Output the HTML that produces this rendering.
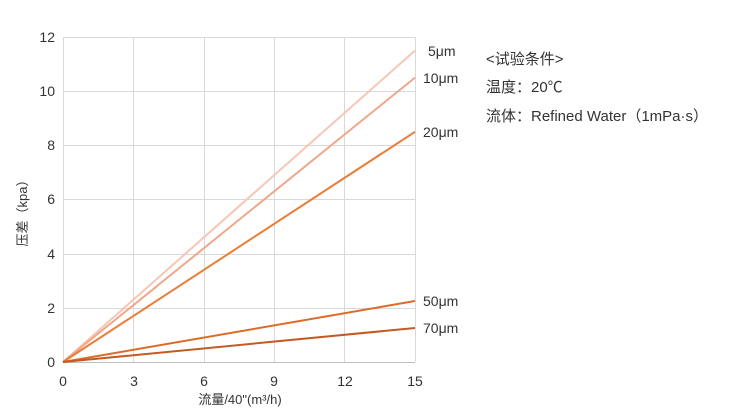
<!DOCTYPE html><html><head><meta charset="utf-8"><style>body{margin:0;background:#fff}svg{display:block}text{font-family:"Liberation Sans","Noto Sans CJK SC",sans-serif;fill:#333}</style></head><body>
<svg width="729" height="413" viewBox="0 0 729 413">
<g stroke="#d9d9d9" stroke-width="1">
<line x1="63" y1="37.5" x2="415" y2="37.5"/><line x1="63" y1="91.5" x2="415" y2="91.5"/><line x1="63" y1="145.5" x2="415" y2="145.5"/><line x1="63" y1="199.5" x2="415" y2="199.5"/><line x1="63" y1="254.5" x2="415" y2="254.5"/><line x1="63" y1="308.5" x2="415" y2="308.5"/>
<line x1="63.5" y1="37" x2="63.5" y2="362"/><line x1="133.5" y1="37" x2="133.5" y2="362"/><line x1="204.5" y1="37" x2="204.5" y2="362"/><line x1="274.5" y1="37" x2="274.5" y2="362"/><line x1="344.5" y1="37" x2="344.5" y2="362"/><line x1="415.5" y1="37" x2="415.5" y2="362"/>
</g>
<line x1="63" y1="362.5" x2="415" y2="362.5" stroke="#bfbfbf"/>
<g font-size="14" text-anchor="end">
<text x="55" y="367">0</text><text x="55" y="313">2</text><text x="55" y="259">4</text><text x="55" y="204">6</text><text x="55" y="150">8</text><text x="55" y="96">10</text><text x="55" y="42">12</text></g>
<g font-size="14" text-anchor="middle">
<text x="63" y="386">0</text><text x="134" y="386">3</text><text x="204" y="386">6</text><text x="274" y="386">9</text><text x="345" y="386">12</text><text x="415" y="386">15</text>
<text x="240" y="404" font-size="13">流量/40"(m³/h)</text>
<text transform="translate(27,210) rotate(-90)" font-size="13">压差（kpa）</text></g>
<g stroke-width="2" fill="none">
<line x1="63" y1="362" x2="415" y2="50.6" stroke="#f7c6b4"/>
<line x1="63" y1="362" x2="415" y2="77.6" stroke="#f0a78a"/>
<line x1="63" y1="362" x2="415" y2="131.8" stroke="#ea7d37"/>
<line x1="63" y1="362" x2="415" y2="301" stroke="#de6a28"/>
<line x1="63" y1="362" x2="415" y2="328" stroke="#c25a22"/>
</g>
<g font-size="14">
<text x="428" y="56">5μm</text><text x="423" y="83">10μm</text><text x="423" y="137">20μm</text><text x="423" y="306">50μm</text><text x="423" y="333">70μm</text>
<text x="486" y="64" font-size="15">&lt;试验条件&gt;</text>
<text x="486" y="92" font-size="15">温度：20℃</text>
<text x="486" y="121" font-size="15">流体：Refined Water（1mPa·s）</text>
</g>
</svg></body></html>
